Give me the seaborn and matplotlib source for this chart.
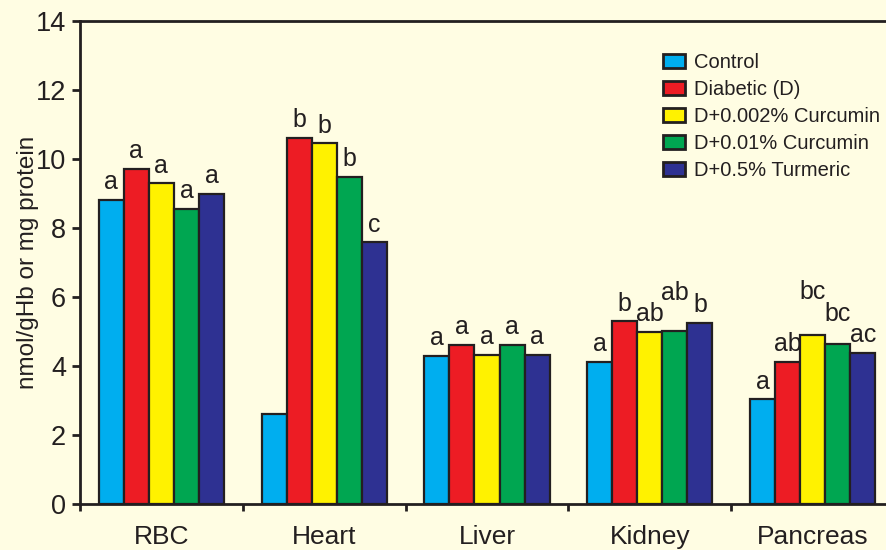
import matplotlib
matplotlib.use("Agg")
import matplotlib.pyplot as plt
import seaborn as sns
import pandas as pd
import numpy as np
from matplotlib.transforms import Bbox

tissues = ["RBC", "Heart", "Liver", "Kidney", "Pancreas"]
groups = ["Control", "Diabetic (D)", "D+0.002% Curcumin", "D+0.01% Curcumin", "D+0.5% Turmeric"]

control = [8.81, 2.61, 4.29, 4.12, 3.04]
diabetic = [9.71, 10.61, 4.61, 5.30, 4.12]
curc_002 = [9.30, 10.46, 4.32, 4.99, 4.90]
curc_001 = [8.55, 9.48, 4.61, 5.01, 4.64]
turmeric = [8.99, 7.59, 4.32, 5.25, 4.38]

letters_control = ["a", "", "a", "a", "a"]
letters_diabetic = ["a", "b", "a", "b", "ab"]
letters_c002 = ["a", "b", "a", "ab", "bc"]
letters_c001 = ["a", "b", "a", "ab", "bc"]
letters_turmeric = ["a", "c", "a", "b", "ac"]

series = [control, diabetic, curc_002, curc_001, turmeric]
letters = [letters_control, letters_diabetic, letters_c002, letters_c001, letters_turmeric]
colors = ["#00AEEF", "#ED1C24", "#FFF200", "#00A651", "#2E3192"]

rows = []
for g, vals, lets in zip(groups, series, letters):
    for t, v, l in zip(tissues, vals, lets):
        rows.append({"Tissue": t, "Group": g, "Value": v, "Letter": l})
df = pd.DataFrame(rows)

bg = "#FFFDE3"
ink = "#231F20"
plt.rcParams["font.family"] = ["Liberation Sans", "DejaVu Sans"]

fig = plt.figure(figsize=(8.87, 5.5), dpi=100, facecolor=bg)
ax = fig.add_axes([80 / 887, 46 / 550, (894 - 80) / 887, (504 - 21) / 550])
ax.set_facecolor(bg)

sns.barplot(data=df, x="Tissue", y="Value", hue="Group", order=tissues,
            hue_order=groups, palette=colors, width=0.77, dodge=True,
            edgecolor=ink, linewidth=1.6, saturation=1, errorbar=None, ax=ax)

ax.set_xlim(-0.5, 4.5)
ax.set_ylim(0, 14)
ax.set_yticks(np.arange(0, 15, 2))
ax.set_xlabel("")
ax.set_ylabel("nmol/gHb or mg protein", fontsize=17.5, color=ink, labelpad=-2)

for side in ["left", "bottom", "top"]:
    ax.spines[side].set_linewidth(2)
    ax.spines[side].set_color(ink)
ax.spines["right"].set_visible(False)

ax.tick_params(axis="y", direction="out", length=6, width=2, color=ink,
               labelsize=19.5, labelcolor=ink, pad=4)
ax.tick_params(axis="x", which="major", length=0, labelsize=19,
               labelcolor=ink, pad=15)
ax.set_xticks(np.arange(-0.5, 4.6, 1), minor=True)
ax.tick_params(axis="x", which="minor", direction="out", length=5, width=2, color=ink)

leg = ax.legend(loc="upper left", bbox_to_anchor=(0.706, 0.95), frameon=False,
                fontsize=14.5, handlelength=1.1, handleheight=0.7,
                handletextpad=0.45, labelspacing=0.4, borderaxespad=0)
for txt in leg.get_texts():
    txt.set_color(ink)
for h in leg.legend_handles:
    h.set_edgecolor(ink)
    h.set_linewidth(2)


def box(ann, renderer):
    bb = ann.get_window_extent(renderer)
    h = bb.height
    # horizontal: slightly padded; vertical: trimmed to the ink area
    return Bbox.from_extents(bb.x0 - 1, bb.y0 + 0.15 * h, bb.x1 + 1, bb.y1 - 0.1 * h)


# letters above bars; within a tissue, labels are placed from the shortest bar
# upward and a label that would collide with one already placed is lifted
fig.canvas.draw()
renderer = fig.canvas.get_renderer()
for i in range(len(tissues)):
    items = []
    for cont, lets in zip(ax.containers, letters):
        bar = cont[i]
        if lets[i]:
            items.append((bar.get_height(), bar, lets[i]))
    items.sort(key=lambda it: it[0])
    placed = []
    for h, bar, l in items:
        x = bar.get_x() + bar.get_width() / 2
        lift = 4
        ann = ax.annotate(l, (x, h), xytext=(0, lift), textcoords="offset points",
                          ha="center", va="bottom", fontsize=18, color=ink)
        for _ in range(20):
            bb = box(ann, renderer)
            if not any(bb.overlaps(o) for o in placed):
                break
            lift += 3
            ann.set_position((0, lift))
        placed.append(box(ann, renderer))

fig.savefig("out.png", dpi=100, facecolor=bg)
